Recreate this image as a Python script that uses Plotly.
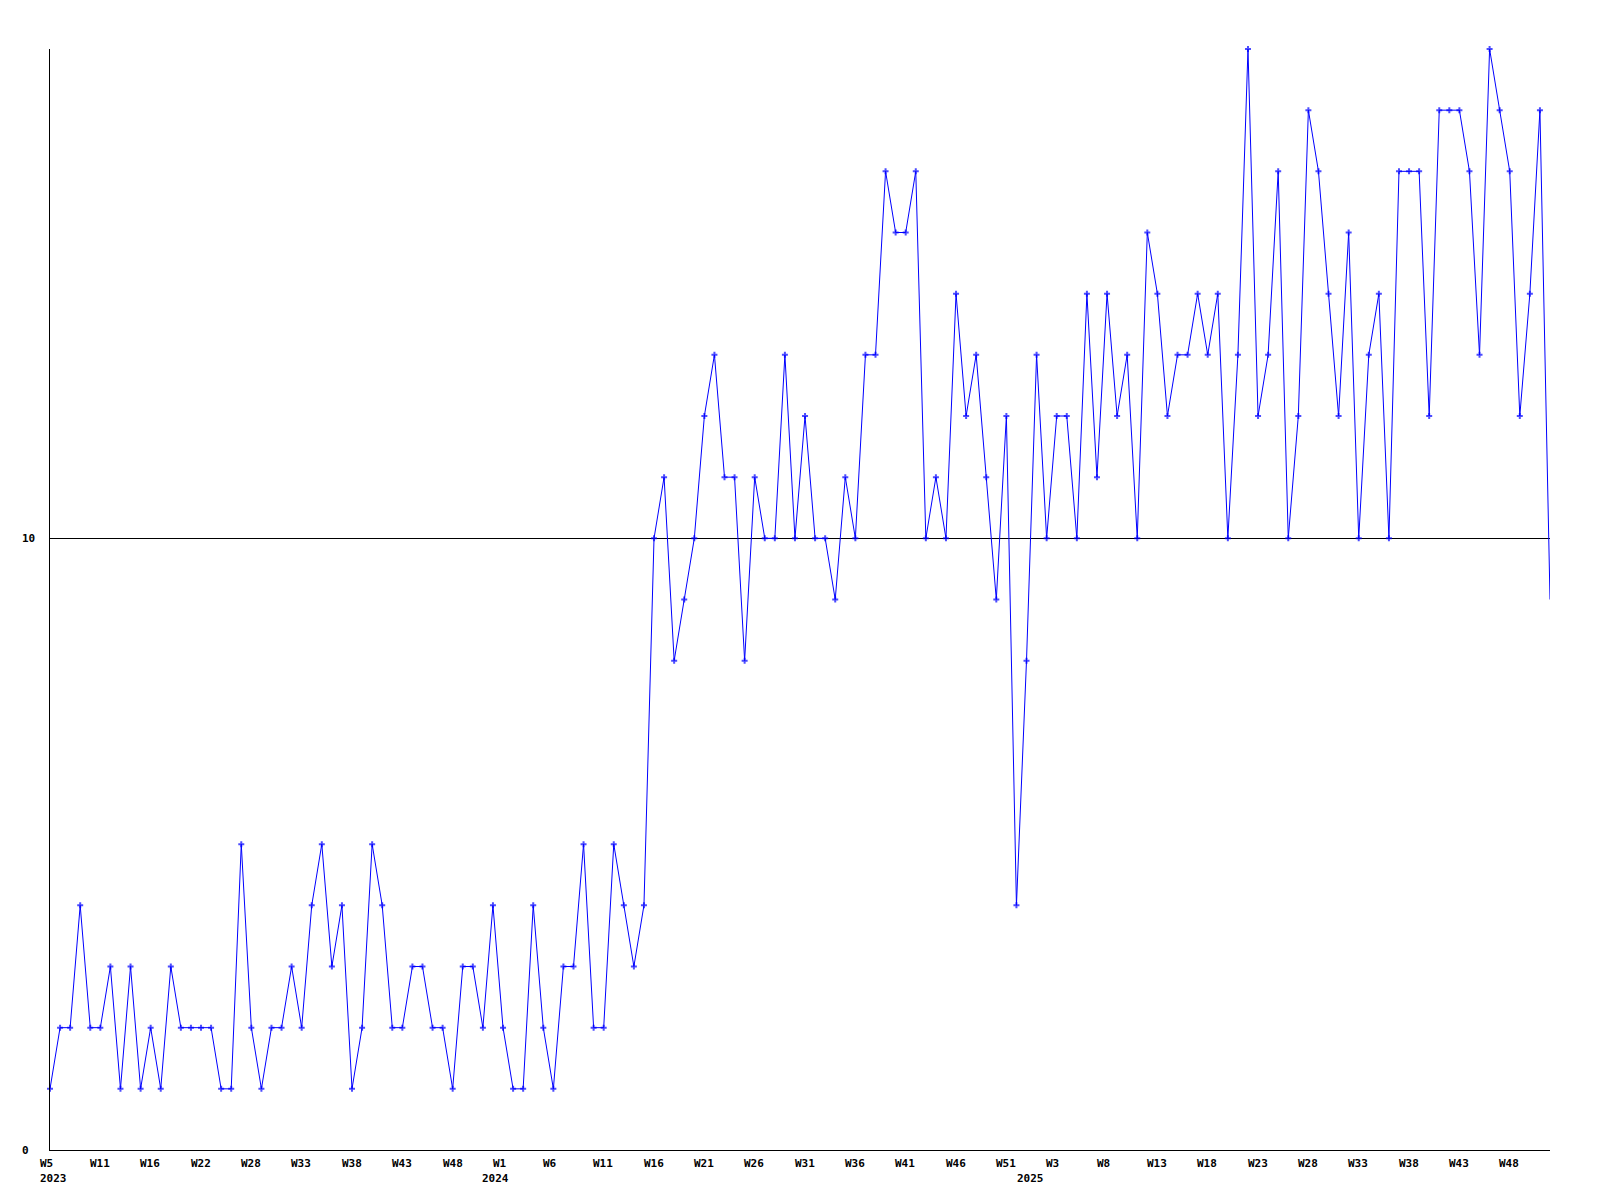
import plotly.graph_objects as go

# weekly values, starting at 2023 W5
values = [1,2,2,4,2,2,3,1,3,1,2,1,3,2,2,2,2,1,1,5,2,1,2,2,3,2,4,5,3,4,
          1,2,5,4,2,2,3,3,2,2,1,3,3,2,4,2,1,1,4,2,1,3,3,5,2,2,5,4,3,4,
          10,11,8,9,10,12,13,11,11,8,11,10,10,13,10,12,10,10,9,11,10,13,13,16,15,15,16,10,11,10,
          14,12,13,11,9,12,4,8,13,10,12,12,10,14,11,14,12,13,10,15,14,12,13,13,14,13,14,10,13,18,
          12,13,16,10,12,17,16,14,12,15,10,13,14,10,16,16,16,12,17,17,17,16,13,18,17,16,12,14,17,9]

week_labels = ["W5","W11","W16","W22","W28","W33","W38","W43","W48","W1",
               "W6","W11","W16","W21","W26","W31","W36","W41","W46","W51",
               "W3","W8","W13","W18","W23","W28","W33","W38","W43","W48"]
year_labels = ["2023", "2024", "2025"]
y_labels = ["0", "10"]
y_label_vals = [0, 10]

# page geometry (the page body adds an 8px offset)
OFF = 8
W, H = 1600 - 2 * OFF, 1200 - 2 * OFF
PLOT_L, PLOT_T, PLOT_R, PLOT_B = 50, 49, 1550, 1150   # page pixels
L, T = PLOT_L - OFF, PLOT_T - OFF
R, B = W - (PLOT_R - OFF), H - (PLOT_B - OFF)
plot_w = PLOT_R - PLOT_L
plot_h = PLOT_B - PLOT_T
n = len(values)

week_label_px = [46.5,99.6,149.8,201,251,301,352,402,452.6,499.5,
                 549.5,603,654,703.5,754,804.5,855,904.5,956,1006,
                 1052,1103.5,1157,1207,1257.5,1307.5,1358,1408.5,1459,1509]
year_label_px = [53.4, 495.7, 1030]
week_row_y = 1163
year_row_y = 1178.5
ylab_left_x = 19.5

x = list(range(n))
sizes = [5] * (n - 1) + [0]

font = dict(family="DejaVu Sans Mono", size=11, color="black", weight="bold")

fig = go.Figure()
fig.add_trace(go.Scatter(
    x=x, y=values, mode="lines+markers",
    line=dict(color="#0000ff", width=1),
    marker=dict(symbol="cross", size=sizes, color="#0000ff", line=dict(width=0)),
    cliponaxis=False, showlegend=False, hoverinfo="skip"))

annotations = []
for t, v in zip(y_labels, y_label_vals):
    annotations.append(dict(text=t, xref="paper", x=(ylab_left_x - PLOT_L) / plot_w,
                            xanchor="left", yref="y", y=v, yanchor="middle",
                            showarrow=False, font=font))
for t, p in zip(week_labels, week_label_px):
    annotations.append(dict(text=t, xref="paper", x=(p - PLOT_L) / plot_w, xanchor="center",
                            yref="paper", y=(PLOT_B - week_row_y) / plot_h, yanchor="middle",
                            showarrow=False, font=font))
for t, p in zip(year_labels, year_label_px):
    annotations.append(dict(text=t, xref="paper", x=(p - PLOT_L) / plot_w, xanchor="center",
                            yref="paper", y=(PLOT_B - year_row_y) / plot_h, yanchor="middle",
                            showarrow=False, font=font))

fig.update_layout(
    width=W, height=H,
    margin=dict(l=L, r=R, t=T, b=B, pad=0),
    paper_bgcolor="white", plot_bgcolor="white",
    annotations=annotations,
    xaxis=dict(range=[0, n - 1], showticklabels=False, ticks="",
               showgrid=False, zeroline=False, showline=True, linecolor="black",
               linewidth=1),
    yaxis=dict(range=[0, 18], tickvals=[10], showticklabels=False, ticks="",
               showgrid=True, gridcolor="black", gridwidth=1,
               zeroline=False, showline=True, linecolor="black", linewidth=1),
)

fig.write_html("out.html")
